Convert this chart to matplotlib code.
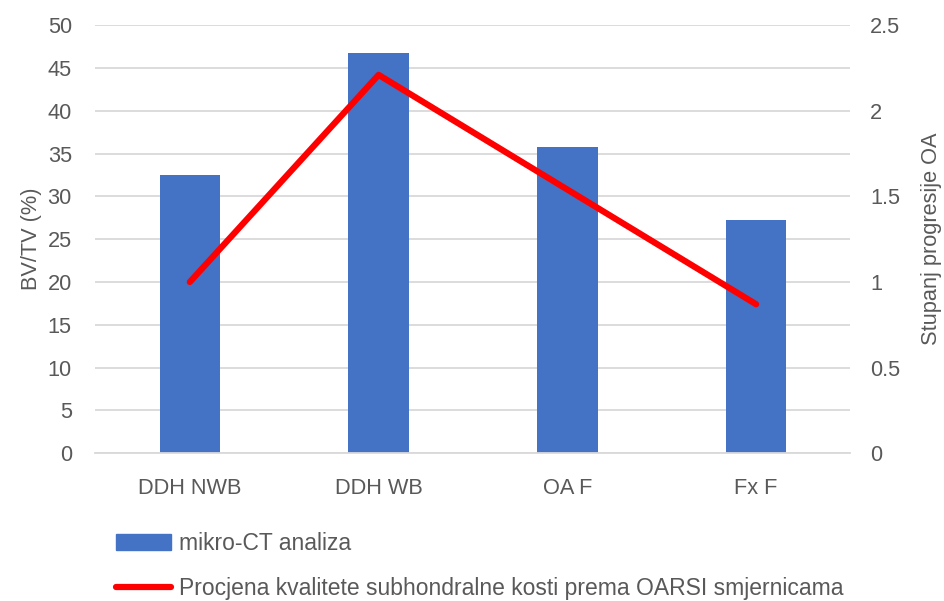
import matplotlib.pyplot as plt
import numpy as np
from matplotlib.lines import Line2D
from matplotlib.patches import Patch

plt.rcParams['font.family'] = ['Liberation Sans', 'DejaVu Sans']

# Podaci
categories = ["DDH NWB", "DDH WB", "OA F", "Fx F"]
bv_tv = [32.5, 46.8, 35.8, 27.3]          # mikro-CT analiza (%)
oarsi = [1.0, 2.21, 1.54, 0.87]           # stupanj progresije OA
left_ticks = [0, 5, 10, 15, 20, 25, 30, 35, 40, 45, 50]
right_ticks = [0, 0.5, 1, 1.5, 2, 2.5]
right_labels = ["0", "0.5", "1", "1.5", "2", "2.5"]

grey = '#595959'
bar_blue = '#4472C4'
line_red = '#FF0000'

fig = plt.figure(figsize=(9.45, 6.01), dpi=100)
ax = fig.add_axes([0.101, 0.246, 0.799, 0.712])
ax2 = ax.twinx()

x = np.arange(len(categories))
ax.bar(x, bv_tv, width=0.32, color=bar_blue, zorder=2)
ax.set_xlim(-0.5, 3.5)
ax.set_ylim(0, 50)
ax.set_yticks(left_ticks)
ax.set_xticks(x)
ax.set_xticklabels(categories)
ax.grid(axis='y', color='#D9D9D9', linewidth=1.3, zorder=0)
ax.set_axisbelow(True)

ax2.plot(x, oarsi, color=line_red, linewidth=4.5, solid_capstyle='round', zorder=3)
ax2.set_ylim(0, 2.5)
ax2.set_yticks(right_ticks)
ax2.set_yticklabels(right_labels)

for a in (ax, ax2):
    for s in a.spines.values():
        s.set_visible(False)
    a.tick_params(length=0, colors=grey, labelsize=15.7)
ax.spines['bottom'].set_visible(True)
ax.spines['bottom'].set_color('#D9D9D9')
ax.spines['bottom'].set_linewidth(1.3)
ax.tick_params(axis='y', pad=17)
ax.tick_params(axis='x', pad=18)
ax2.tick_params(axis='y', pad=14)

ax.set_ylabel("BV/TV (%)", color=grey, fontsize=15.7, labelpad=4)
ax2.set_ylabel("Stupanj progresije OA", color=grey, fontsize=15.7, labelpad=15)

handles = [Patch(color=bar_blue), Line2D([0], [0], color=line_red, linewidth=4.5, solid_capstyle='round')]
labels = ["mikro-CT analiza", "Procjena kvalitete subhondralne kosti prema OARSI smjernicama"]
leg = fig.legend(handles, labels, loc='upper left', bbox_to_anchor=(0.123, 0.115),
                 frameon=False, fontsize=16.5, labelcolor=grey, handlelength=2.4,
                 handletextpad=0.35, labelspacing=0.95, borderaxespad=0, borderpad=0)

fig.savefig("out.png", dpi=100)
